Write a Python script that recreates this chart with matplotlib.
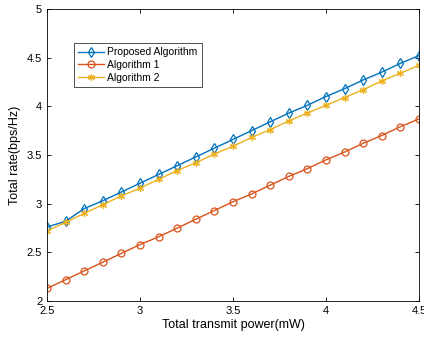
import matplotlib
matplotlib.use("Agg")
import matplotlib.pyplot as plt

power = [2.5, 2.6, 2.7, 2.8, 2.9, 3.0, 3.1, 3.2, 3.3, 3.4, 3.5,
         3.6, 3.7, 3.8, 3.9, 4.0, 4.1, 4.2, 4.3, 4.4, 4.5]
proposed = [2.76, 2.82, 2.95, 3.03, 3.12, 3.21, 3.30, 3.39, 3.48, 3.57, 3.66,
            3.75, 3.84, 3.93, 4.01, 4.10, 4.18, 4.27, 4.35, 4.44, 4.52]
alg1 = [2.13, 2.22, 2.31, 2.40, 2.49, 2.58, 2.66, 2.75, 2.84, 2.93, 3.02,
        3.10, 3.19, 3.28, 3.36, 3.45, 3.53, 3.62, 3.70, 3.79, 3.87]
alg2 = [2.72, 2.81, 2.90, 2.99, 3.08, 3.16, 3.25, 3.34, 3.42, 3.51, 3.59,
        3.68, 3.76, 3.85, 3.93, 4.01, 4.09, 4.17, 4.26, 4.34, 4.42]

plt.rcParams['font.family'] = ['Liberation Sans', 'DejaVu Sans']
plt.rcParams['font.size'] = 8

fig = plt.figure(figsize=(4.24, 3.41), dpi=100)
ax = fig.add_axes([0.111, 0.117, 0.877, 0.857])

ax.plot(power, proposed, color='#0072BD', marker='d', mfc='none', ms=5.5, mew=0.9,
        lw=1, label='Proposed Algorithm')
ax.plot(power, alg1, color='#D95319', marker='o', mfc='none', ms=5, mew=0.9,
        lw=1, label='Algorithm 1')
ax.plot(power, alg2, color='#EDB120', marker=(6, 2, 0), ms=5, mew=0.9,
        lw=1, label='Algorithm 2')

ax.set_xlim(2.5, 4.5)
ax.set_ylim(2, 5)
ax.set_xticks([2.5, 3, 3.5, 4, 4.5])
ax.set_xticklabels(['2.5', '3', '3.5', '4', '4.5'])
ax.set_yticks([2, 2.5, 3, 3.5, 4, 4.5, 5])
ax.set_yticklabels(['2', '2.5', '3', '3.5', '4', '4.5', '5'])
ax.tick_params(direction='in', top=True, right=True, length=3, width=0.6)
for s in ax.spines.values():
    s.set_linewidth(0.6)

ax.set_xlabel('Total transmit power(mW)', fontsize=9, labelpad=2)
ax.set_ylabel('Total rate(bps/Hz)', fontsize=9, labelpad=4)

leg = ax.legend(loc='upper left', bbox_to_anchor=(0.058, 0.90), fancybox=False,
                edgecolor='black', fontsize=7.5, handlelength=2.5,
                borderpad=0.4, labelspacing=0.25, handletextpad=0.3)
leg.get_frame().set_linewidth(0.6)

fig.savefig('out.png', dpi=100)
